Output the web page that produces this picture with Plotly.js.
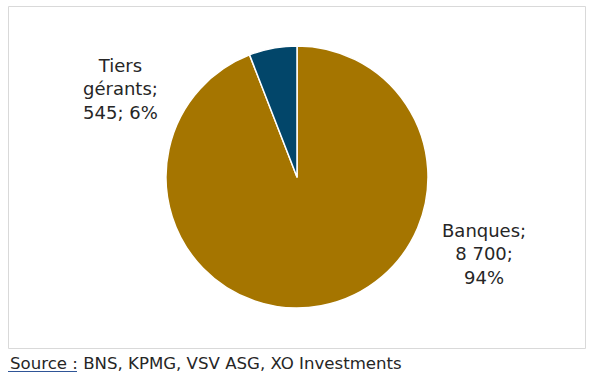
<!DOCTYPE html>
<html>
<head>
<meta charset="utf-8">
<script src="https://cdn.plot.ly/plotly-3.0.1.min.js"></script>
<style>html,body{margin:0;padding:0;background:#fff;}#chart{width:592px;height:381px;}</style>
</head>
<body>
<div id="chart"></div>
<script>
// Data
const labels = ["Banques", "Tiers gérants"];
const values = [8700, 545];
const colors = ["#A57500", "#02466A"];
const sourceText = "Source :";
const sourceRest = " BNS, KPMG, VSV ASG, XO Investments";

const total = values.reduce((a, b) => a + b, 0);
function fmt(v) { return String(v).replace(/\B(?=(\d{3})+(?!\d))/g, " "); }
function pct(v) { return Math.round(v / total * 100) + "%"; }

const labelTexts = [
  labels[0] + ";<br>" + fmt(values[0]) + ";<br>" + pct(values[0]),
  labels[1].replace(" ", "<br>") + ";<br>" + fmt(values[1]) + "; " + pct(values[1])
];
const labelPos = [
  {x: 484 / 592, y: 1 - 254 / 381},
  {x: 120 / 592, y: 1 - 89 / 381}
];

const font = "DejaVu Sans, sans-serif";
const trace = {
  type: "pie",
  labels: labels,
  values: values,
  sort: false,
  direction: "clockwise",
  rotation: 0,
  textinfo: "none",
  hoverinfo: "none",
  marker: {colors: colors, line: {color: "#ffffff", width: 1.5}},
  domain: {x: [166 / 592, 428 / 592], y: [1 - 308 / 381, 1 - 46 / 381]},
  showlegend: false
};

const annotations = labelTexts.map((t, i) => ({
  xref: "paper", yref: "paper", x: labelPos[i].x, y: labelPos[i].y,
  xanchor: "center", yanchor: "middle", showarrow: false, align: "center",
  text: t, font: {family: font, size: 18, color: "#262626"}
}));
annotations.push({
  xref: "paper", yref: "paper", x: 8 / 592, y: 1 - 363 / 381,
  xanchor: "left", yanchor: "middle", showarrow: false, align: "left",
  text: sourceText + sourceRest, font: {family: font, size: 16.6, color: "#262626"}
});

const layout = {
  width: 592, height: 381,
  margin: {l: 0, r: 0, t: 0, b: 0},
  paper_bgcolor: "#ffffff",
  showlegend: false,
  annotations: annotations,
  shapes: [
    {type: "rect", xref: "paper", yref: "paper", x0: 8.5 / 592, x1: 585.5 / 592,
     y0: 1 - 348.5 / 381, y1: 1 - 6.5 / 381, line: {color: "#D9D9D9", width: 1}},
    {type: "line", xref: "paper", yref: "paper", x0: 8 / 592, x1: 77 / 592,
     y0: 1 - 371.5 / 381, y1: 1 - 371.5 / 381, line: {color: "#2F5597", width: 1}}
  ]
};

Plotly.newPlot("chart", [trace], layout, {staticPlot: true, displayModeBar: false});
</script>
</body>
</html>
